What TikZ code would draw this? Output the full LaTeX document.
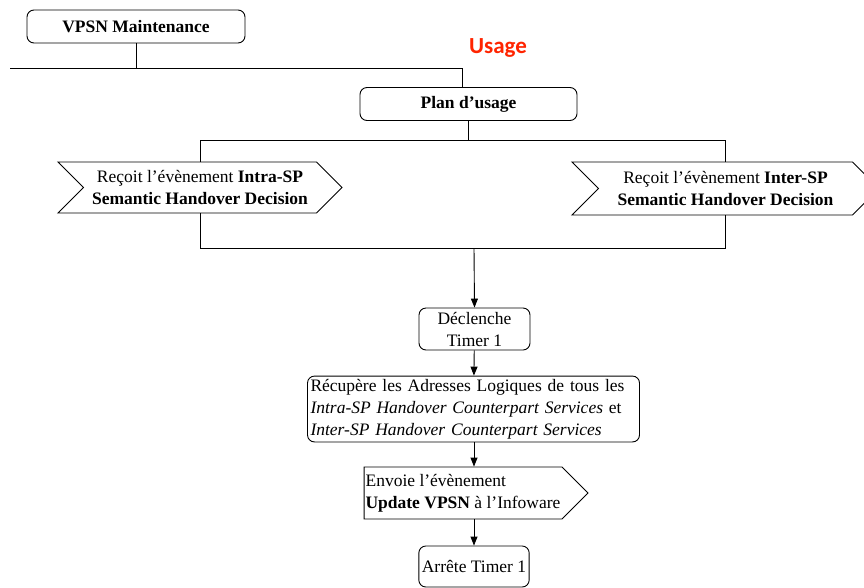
\documentclass[tikz,border=0pt]{standalone}
\usepackage{fontspec}
\setmainfont{Liberation Serif}
\newfontfamily\usagefont{Carlito}
\usepackage{xcolor}
\usetikzlibrary{arrows.meta,positioning,shapes.symbols,calc}
\definecolor{vred}{HTML}{FF2400}

\begin{document}
\begin{tikzpicture}[x=1pt,y=-1pt,
    line width=0.9pt,
    box/.style={rectangle, draw, rounded corners=7pt, font=\fontsize{17.5}{22}\selectfont, align=center, inner sep=3pt},
    evt/.style={signal, draw, signal to=east, signal pointer angle=90, font=\fontsize{17.5}{22}\selectfont, align=center, inner sep=3pt},
    flow/.style={-{Triangle[length=9pt,width=7pt]}},
]
    \useasboundingbox (0,0) rectangle (864,587);

    \node[box, minimum width=218pt, minimum height=33pt] (vpsn) at (136,26.5) {\textbf{VPSN Maintenance}};
    \node[font=\usagefont\fontsize{23}{27}\selectfont\bfseries, text=vred] (usage) at (498,48) {Usage};
    \node[box, minimum width=217pt, minimum height=33pt] (plan) at (468.5,104) {\textbf{Plan d’usage}};
    \node[evt, signal from=west, minimum width=284pt, minimum height=51pt] (intra) at (200,187.5) {Reçoit l’évènement \textbf{Intra-SP}\\\textbf{Semantic Handover Decision}};
    \node[evt, signal from=west, minimum width=307pt, minimum height=53pt] (inter) at (725.5,188.5) {Reçoit l’évènement \textbf{Inter-SP}\\\textbf{Semantic Handover Decision}};
    \node[box, minimum width=111pt, minimum height=42pt] (declenche) at (474.5,329) {Déclenche\\Timer 1};
    \node[box, text width=326pt, align=left, minimum height=64pt] (recup) at (473.5,409) {Récupère les Adresses Logiques de tous les\\\textit{Intra-SP Handover Counterpart Services} et\\\textit{Inter-SP Handover Counterpart Services}};
    \node[evt, align=left, inner xsep=1.5pt, minimum height=52pt] (envoie) at (463,493) {Envoie l’évènement\\\textbf{Update VPSN} à l’Infoware};
    \node[box, minimum width=110pt, minimum height=41pt] (arrete) at (474,566.5) {Arrête Timer 1};

    % bus lines
    \coordinate (busL) at (10,68);
    \coordinate (busR) at (462,68);
    \coordinate (split) at (468.5,140);
    \coordinate (join) at (474,248);

    \draw (vpsn.south) -- (vpsn.south |- busL);
    \draw (busL) -- (busR) -- (busR |- plan.north);
    \draw (plan.south) -- (split);
    \draw (intra.north) -- (intra.north |- split) -- (inter.north |- split) -- (inter.north);
    \draw (intra.south) -- (intra.south |- join) -- (inter.south |- join) -- (inter.south);

    % flow
    \draw[flow] (join) -- (declenche.north);
    \draw[flow] (declenche) -- (recup);
    \draw[flow] (recup.south -| arrete.north) -- (envoie.north -| arrete.north);
    \draw[flow] (envoie.south -| arrete.north) -- (arrete.north);
\end{tikzpicture}
\end{document}
